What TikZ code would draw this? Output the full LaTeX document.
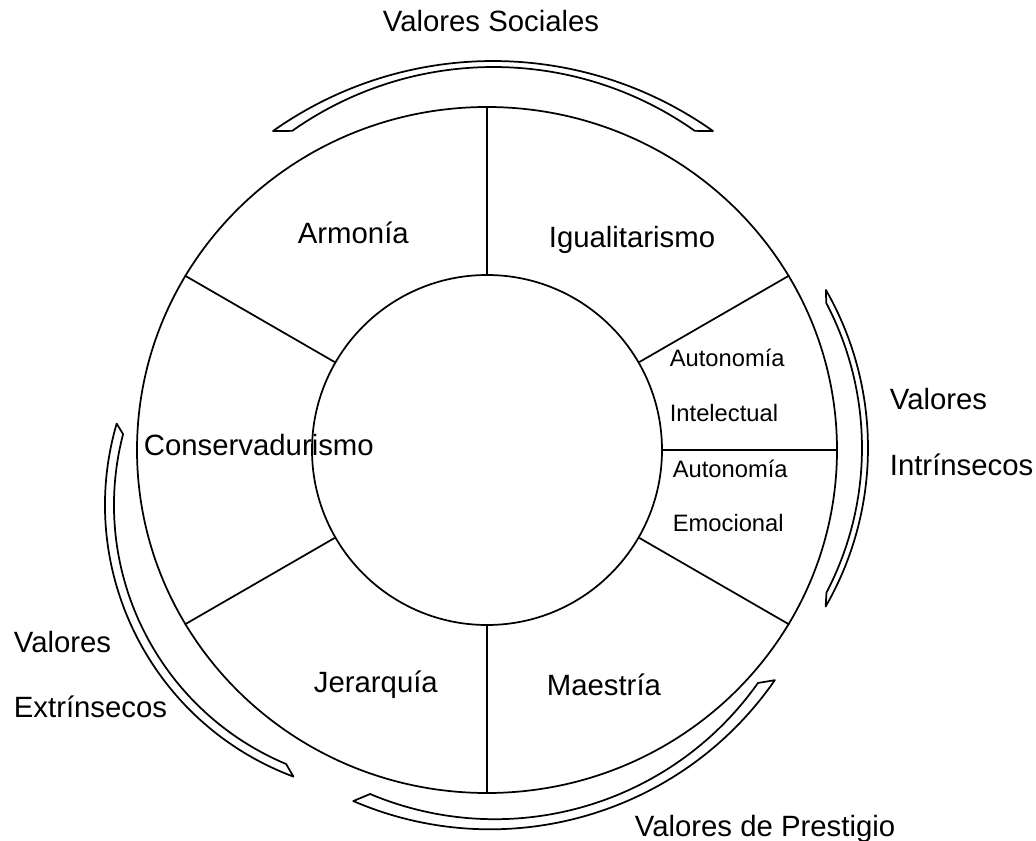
\documentclass[tikz,border=0pt]{standalone}
\usepackage{fontspec}
\setmainfont{Liberation Sans}
\usetikzlibrary{calc,shapes.geometric}

\tikzset{
  bigtext/.style={anchor=base west,inner sep=0pt,font=\fontsize{22}{26}\selectfont},
  smalltext/.style={anchor=base west,inner sep=0pt,font=\fontsize{17.8}{21}\selectfont},
  band/.style={line join=round}
}

\begin{document}
\begin{tikzpicture}[x=0.75pt,y=0.75pt,yscale=-1,xscale=1,line width=1.3pt]
\useasboundingbox (0,0) rectangle (1036,841);

%Shape: Ellipse [outer ring]
\node [draw,ellipse,minimum width=525pt,minimum height=514.5pt,inner sep=0pt] (rim) at (487,450) {};
%Shape: Circle [inner hub]
\node [draw,circle,minimum size=262.5pt,inner sep=0pt] (hub) at (487,450) {};

%Straight Lines [sector borders]
\draw (hub.90) -- (rim.90) ;
\draw (hub.30) -- (rim.30) ;
\draw (hub.0) -- (rim.0) ;
\draw (hub.-30) -- (rim.-30) ;
\draw (hub.-90) -- (rim.-90) ;
\draw (hub.210) -- (rim.210) ;
\draw (hub.150) -- (rim.150) ;

%Shape: Arc block [top]
\draw [band] ($(493,441.7)+(-125.3:380.7)$) arc [start angle=-125.3,end angle=-54.7,radius=380.7]
  -- ($(493.5,416.2)+(-54.8:349.2)$) arc [start angle=-54.8,end angle=-125.2,radius=349.2] -- cycle ;
%Shape: Arc block [right]
\draw [band] ($(550,448)+(-29.8:318)$) arc [start angle=-29.8,end angle=29.9,radius=318]
  -- ($(550,448)+(27.6:312)$) arc [start angle=27.6,end angle=-27.7,radius=312] -- cycle ;
%Shape: Arc block [left]
\draw [band] ($(395,505)+(196.3:290)$) arc [start angle=196.3,end angle=110.5,radius=290]
  -- ($(395,505)+(112.8:281)$) arc [start angle=112.8,end angle=194.6,radius=281] -- cycle ;
%Shape: Arc block [bottom]
\draw [band] ($(490.2,483.1)+(113.3:346.2)$) arc [start angle=113.3,end angle=34.7,radius=346.2]
  -- ($(494.9,497.1)+(35.25:322.1)$) arc [start angle=35.25,end angle=112.8,radius=322.1] -- cycle ;

% Text Node
\node [bigtext] (valsoc) at (382,32) {Valores Sociales};
% Text Node
\node [bigtext] (armonia) at (297,244) {Armonía};
% Text Node
\node [bigtext] (igual) at (548,248) {Igualitarismo};
% Text Node
\node [smalltext] (autint) at (669,367) {Autonomía};
% Text Node
\node [smalltext] (intel) at (669,422) {Intelectual};
% Text Node
\node [smalltext] (autemo) at (672,478) {Autonomía};
% Text Node
\node [smalltext] (emoc) at (672,532) {Emocional};
% Text Node
\node [bigtext] (conserv) at (143,456) {Conservadurismo};
% Text Node
\node [bigtext] (jerarq) at (313,692) {Jerarquía};
% Text Node
\node [bigtext] (maest) at (546,695) {Maestría};
% Text Node
\node [bigtext] (valint) at (889,410) {Valores};
% Text Node
\node [bigtext] (intrin) at (889,476) {Intrínsecos};
% Text Node
\node [bigtext] (valext) at (13,652) {Valores};
% Text Node
\node [bigtext] (extrin) at (13,717) {Extrínsecos};
% Text Node
\node [bigtext] (valpres) at (634,836) {Valores de Prestigio};

\end{tikzpicture}
\end{document}
